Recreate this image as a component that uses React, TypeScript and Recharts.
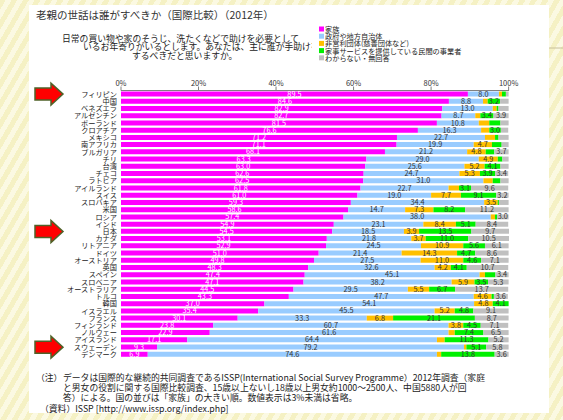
import { Bar, BarChart, LabelList, XAxis, YAxis } from "recharts";

const countries = [
  "フィリピン", "中国", "ベネズエラ", "アルゼンチン", "ポーランド", "クロアチア", "メキシコ",
  "南アフリカ", "ブルガリア", "チリ", "台湾", "チェコ", "ラトビア", "アイルランド", "スイス",
  "スロバキア", "米国", "ロシア", "インド", "日本", "カナダ", "リトアニア", "ドイツ",
  "オーストリア", "英国", "スペイン", "スロベニア", "オーストラリア", "トルコ", "韓国",
  "イスラエル", "フランス", "フィンランド", "ノルウェー", "アイスランド", "スウェーデン", "デンマーク",
];
const family = [
  89.5, 84.6, 82.9, 82.7, 81.5, 76.6, 71.2, 71.1, 68.1, 63.3, 63.0, 62.6, 62.5, 61.8, 61.0,
  59.3, 58.6, 57.4, 54.9, 54.5, 53.1, 52.9, 51.0, 49.8, 48.3, 47.4, 47.1, 44.5, 43.3, 37.0,
  35.4, 30.1, 23.8, 22.9, 17.1, 9.3, 6.9,
];
const government = [
  8.0, 8.8, 13.0, 8.7, 10.8, 16.3, 22.7, 19.9, 21.2, 29.0, 25.6, 24.7, 31.0, 22.7, 19.0,
  34.4, 14.7, 38.0, 23.1, 18.5, 21.8, 24.5, 21.4, 27.5, 32.6, 45.1, 38.2, 29.5, 47.7, 54.1,
  45.5, 33.3, 60.7, 61.6, 64.4, 79.2, 74.6,
];
const nonprofit = [
  0.8, 1.2, 1.0, 1.3, 2.7, 2.1, 2.6, 4.7, 4.8, 4.9, 5.2, 5.3, 2.4, 2.7, 7.7,
  3.5, 7.3, 1.1, 8.4, 3.9, 3.7, 10.9, 14.3, 11.0, 4.2, 1.4, 5.9, 5.5, 4.6, 4.8,
  5.2, 6.8, 3.8, 1.6, 2.0, 0.6, 1.1,
];
const privateService = [
  1.0, 3.2, 0.5, 3.4, 2.9, 3.0, 0.9, 2.5, 2.2, 1.2, 4.1, 3.9, 2.0, 3.1, 9.1,
  0.3, 8.2, 0.5, 5.1, 13.5, 11.0, 5.6, 4.7, 4.6, 4.1, 2.7, 3.5, 6.7, 0.6, 4.1,
  4.8, 21.1, 4.5, 7.4, 11.3, 5.1, 13.8,
];
const unknown = [
  0.7, 2.2, 2.6, 3.9, 2.1, 1.9, 2.6, 1.8, 3.7, 1.6, 2.1, 3.4, 2.1, 9.6, 3.2,
  2.5, 11.2, 3.0, 8.4, 9.7, 10.5, 6.1, 8.6, 7.1, 10.7, 3.4, 5.3, 13.7, 3.6, 0,
  9.1, 8.7, 7.1, 6.5, 5.2, 5.8, 3.6,
];
const xTicks = [0, 20, 40, 60, 80, 100];

const series = [
  { key: "family", name: "家族", color: "#ff00ff", text: "#ffffff" },
  { key: "government", name: "政府や地方自治体", color: "#99ccff", text: "#333333" },
  { key: "nonprofit", name: "非営利団体(慈善団体など)", color: "#ffc000", text: "#333333" },
  { key: "privateService", name: "家事サービスを提供している民間の事業者", color: "#00f000", text: "#333333" },
  { key: "unknown", name: "わからない・無回答", color: "#c0c0c0", text: "#333333" },
];

const data = countries.map((c, i) => ({
  country: c,
  family: family[i],
  government: government[i],
  nonprofit: nonprofit[i],
  privateService: privateService[i],
  unknown: unknown[i],
}));

const FONT = "'Noto Sans CJK JP', 'Noto Sans', sans-serif";
const PLOT_TOP = 90.5;
const PLOT_BOTTOM = 358;
const rowH = (PLOT_BOTTOM - PLOT_TOP) / countries.length;
const rowY = (i: number) => PLOT_TOP + rowH * (i + 0.5);

function Arrow({ cy }: { cy: number }) {
  const d = `M35,${cy - 6} L51,${cy - 6} L51,${cy - 11} L63,${cy} L51,${cy + 11} L51,${cy + 6} L35,${cy + 6} Z`;
  return <path d={d} fill="#ff0000" stroke="#4f6228" strokeWidth={1.5} />;
}

export default function App() {
  return (
    <div
      style={{
        position: "relative",
        width: 563,
        height: 420,
        overflow: "hidden",
        fontFamily: FONT,
        background:
          "repeating-linear-gradient(120deg, #f5f1c4 0px, #f5f1c4 5px, #fbf9e2 5px, #fbf9e2 10px)",
      }}
    >
      <style>{"body{margin:0}"}</style>
      <div style={{ position: "absolute", left: 29, top: 5, width: 520, height: 408, background: "#ffffff" }} />
      <div style={{ position: "absolute", left: 0, top: 0 }}>
        <BarChart
          width={563}
          height={420}
          data={data}
          layout="vertical"
          barCategoryGap={1}
          margin={{ top: PLOT_TOP - 14, right: 54, bottom: 420 - PLOT_BOTTOM, left: 0 }}
        >
          <XAxis
            type="number"
            orientation="top"
            domain={[0, 100]}
            ticks={xTicks}
            tickFormatter={(v) => `${v}%`}
            height={14}
            tickSize={4}
            tickMargin={1}
            stroke="#808080"
            tick={{ fontSize: 7.5, fill: "#333333", fontFamily: FONT }}
            interval={0}
          />
          <YAxis
            type="category"
            dataKey="country"
            width={121}
            axisLine={false}
            tickLine={false}
            tickSize={2}
            tickMargin={2}
            interval={0}
            tick={{ fontSize: 7.2, fill: "#222222", fontFamily: FONT }}
          />
          {series.map((s) => (
            <Bar key={s.key} dataKey={s.key} name={s.name} stackId="a" fill={s.color} isAnimationActive={false}>
              <LabelList
                dataKey={s.key}
                position="center"
                formatter={(v: any) => (typeof v === "number" && v >= 3 ? v.toFixed(1) : "")}
                style={{ fontSize: 7.3, fill: s.text, fontFamily: FONT }}
              />
            </Bar>
          ))}
        </BarChart>
      </div>
      <svg
        width={563}
        height={420}
        style={{ position: "absolute", left: 0, top: 0, pointerEvents: "none" }}
        fontFamily={FONT}
      >
        <defs>
          <clipPath id="qclip">
            <rect x={40} y={25} width={272} height={45} />
          </clipPath>
        </defs>
        <line x1={549} y1={48} x2={563} y2={48} stroke="#c8c09a" strokeWidth={1} />
        <text x={36} y={14} fontSize={10.5} fill="#333333" dominantBaseline="central">
          老親の世話は誰がすべきか（国際比較）（2012年）
        </text>
        <g clipPath="url(#qclip)" fontSize={8.8} fill="#222222">
          <text x={62} y={38} dominantBaseline="central">日常の買い物や家のそうじ、洗たくなどで助けを必要として</text>
          <text x={83} y={46.5} dominantBaseline="central">いるお年寄りがいるとします。あなたは、主に誰が手助けを</text>
          <text x={132} y={55} dominantBaseline="central">するべきだと思いますか。</text>
        </g>
        {series.map((s, i) => (
          <g key={s.key}>
            <rect x={319} y={29 + i * 7.2 - 2.5} width={5} height={5} fill={s.color} />
            <text x={325} y={29 + i * 7.2} fontSize={7.2} fill="#222222" dominantBaseline="central">
              {s.name}
            </text>
          </g>
        ))}
        <Arrow cy={rowY(0)} />
        <Arrow cy={rowY(19)} />
        <Arrow cy={rowY(35)} />
        <g fontSize={8.8} fill="#222222">
          <text x={36} y={377} dominantBaseline="central">（注）</text>
          <text x={63} y={377} dominantBaseline="central">
            データは国際的な継続的共同調査であるISSP(International Social Survey Programme）2012年調査（家庭
          </text>
          <text x={63} y={387} dominantBaseline="central">
            と男女の役割に関する国際比較調査、15歳以上ないし18歳以上男女約1000～2500人、中国5880人が回
          </text>
          <text x={63} y={397} dominantBaseline="central">
            答）による。国の並びは「家族」の大きい順。数値表示は3%未満は省略。
          </text>
          <text x={40} y={408} dominantBaseline="central">
            （資料）ISSP [http://www.issp.org/index.php]
          </text>
        </g>
      </svg>
    </div>
  );
}
